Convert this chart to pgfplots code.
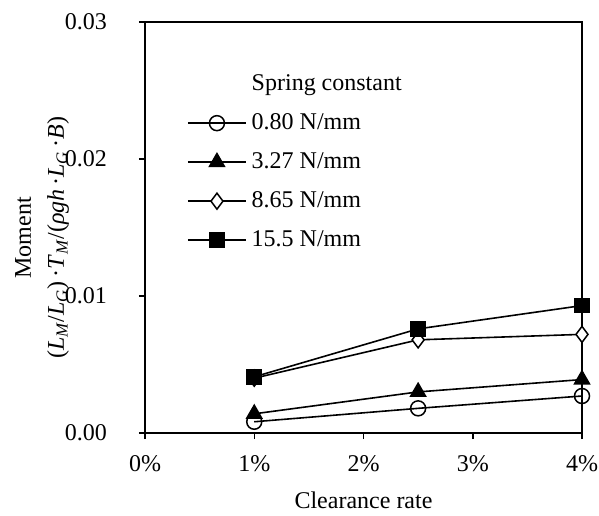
\documentclass[border=0pt]{standalone}
\usepackage{fontspec}
\setmainfont{Liberation Serif}
\usepackage{pgfplots}
\pgfplotsset{compat=1.18}
\usetikzlibrary{calc}
\begin{document}
\fontsize{24bp}{28bp}\selectfont
\begin{tikzpicture}
\useasboundingbox (0,0) rectangle (599bp,516bp);
\begin{axis}[
  at={(145bp,83bp)}, anchor=south west,
  scale only axis, width=437bp, height=411bp,
  xmin=0, xmax=0.04, ymin=0, ymax=0.03,
  xtick={0,0.01,0.02,0.03,0.04},
  xticklabels={0\%,1\%,2\%,3\%,4\%},
  ytick={0,0.01,0.02,0.03},
  yticklabels={0.00,0.01,0.02,0.03},
  /pgf/number format/assume math mode=true,
  scaled ticks=false,
  xtick pos=left, ytick pos=left,
  tick align=outside,
  major tick length=6bp,
  axis line style={line width=1.6bp},
  every tick/.style={black, line width=1.5bp},
  xticklabel style={yshift=-8bp},
  yticklabel style={xshift=-24bp},
  xlabel={Clearance rate},
  xlabel style={at={(rel axis cs:0.5,0)}, anchor=center, yshift=-67bp},
  ylabel={Moment\\[5bp](\textit{L}\textsubscript{\textit{M}}/\textit{L}\textsubscript{\textit{G}})\,·\textit{T}\textsubscript{\textit{M}}/(\textit{ρgh}\,·\textit{L}\textsubscript{\textit{G}}\,·\textit{B})},
  ylabel style={at={($(rel axis cs:0,0.475)+(-103bp,0)$)}, anchor=center, align=center},
  legend cell align=left,
  legend style={at={(rel axis cs:0.096,0.876)}, anchor=north west, draw=none, fill=none,
    inner sep=0pt, row sep=17bp, column sep=5bp,
    nodes={inner sep=0pt, text height=17bp, text depth=5bp}},
  legend image code/.code={\draw[mark repeat=2, mark phase=2] plot coordinates {(0bp,0bp) (29bp,0bp) (58bp,0bp)};},
  every axis plot/.append style={black, line width=1.6bp},
]
\addlegendimage{empty legend}
\addlegendentry{Spring constant}
\addplot[mark=o, mark size=7.5bp, mark options={fill=white, line width=1.5bp}] coordinates {(0.01,0.00082) (0.025,0.0018) (0.04,0.0027)};
\addlegendentry{0.80 N/mm}
\addplot[mark=triangle*, mark size=8.5bp, mark options={fill=black}] coordinates {(0.01,0.0014) (0.025,0.0030) (0.04,0.0039)};
\addlegendentry{3.27 N/mm}
\addplot[mark=diamond*, mark size=8bp, mark options={fill=white, line width=1.5bp}] coordinates {(0.01,0.0040) (0.025,0.0068) (0.04,0.0072)};
\addlegendentry{8.65 N/mm}
\addplot[mark=square*, mark size=7bp, mark options={fill=black}] coordinates {(0.01,0.0041) (0.025,0.0076) (0.04,0.0093)};
\addlegendentry{15.5 N/mm}
\end{axis}
\end{tikzpicture}
\end{document}
